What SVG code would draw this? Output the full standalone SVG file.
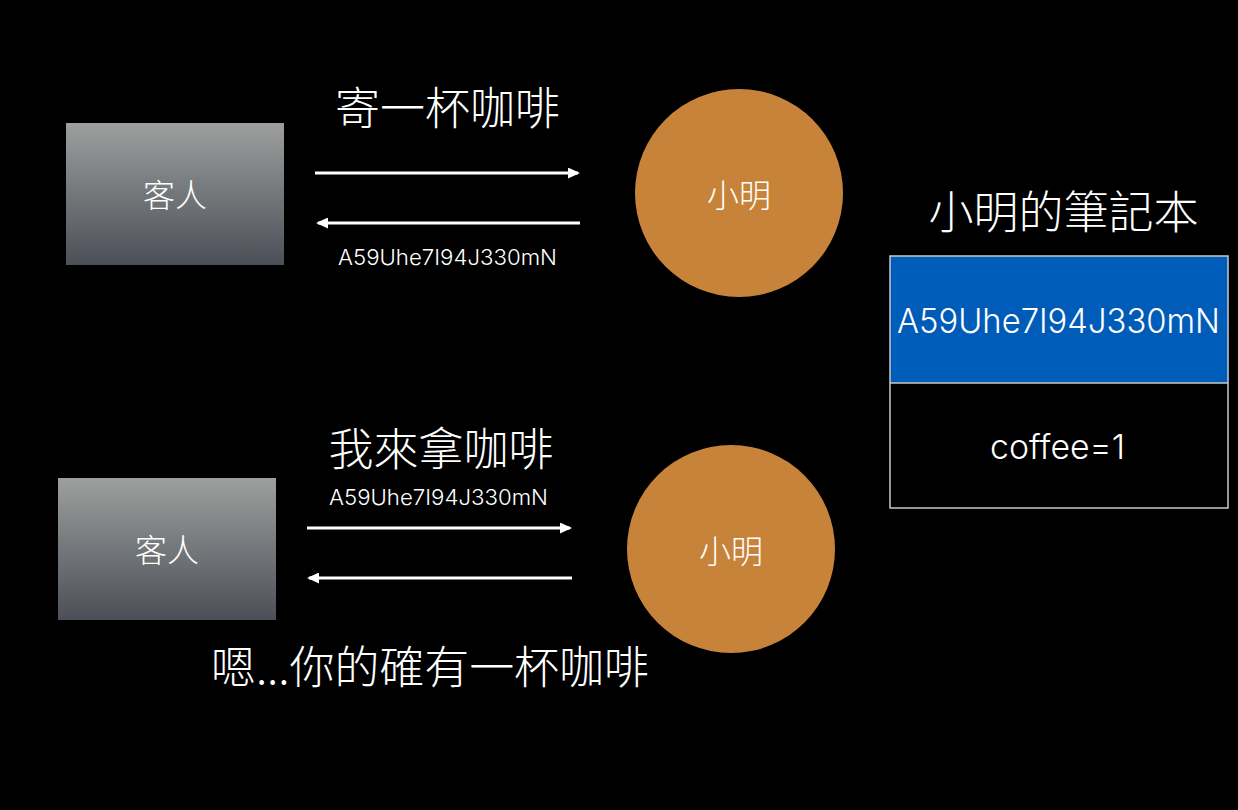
<svg xmlns="http://www.w3.org/2000/svg" width="1238" height="810" viewBox="0 0 1238 810">
  <style>
    .cjk { font-family: "Noto Sans CJK TC", "Noto Sans CJK SC", sans-serif; fill: #ffffff; font-weight: 300; }
    .lat { font-family: "Inter", "Liberation Sans", "DejaVu Sans", sans-serif; fill: #ffffff; font-weight: 300; }
    .title { font-size: 45px; }
    .node { font-size: 32px; }
    .small { font-size: 22px; }
    .big { font-size: 34px; }
    .conn { stroke: #ffffff; stroke-width: 3; fill: none; }
    .person { fill: url(#greyGrad); }
    .ming { fill: #C87E2C; }
  </style>
  <defs>
    <linearGradient id="greyGrad" x1="0" y1="0" x2="0" y2="1">
      <stop offset="0" stop-color="#9C9F9D"/>
      <stop offset="1" stop-color="#4C4F57"/>
    </linearGradient>
    <filter id="grain" x="0" y="0" width="100%" height="100%">
      <feTurbulence type="fractalNoise" baseFrequency="0.85" numOctaves="2" seed="7" result="noise"/>
      <feColorMatrix in="noise" type="matrix" values="0.33 0.33 0.33 0 0  0.33 0.33 0.33 0 0  0.33 0.33 0.33 0 0  0 0 0 0 1" result="gray"/>
      <feComposite in="gray" in2="SourceGraphic" operator="in"/>
    </filter>
    <marker id="arrow" viewBox="0 0 12 11" refX="10" refY="5.5" markerWidth="12" markerHeight="11" markerUnits="userSpaceOnUse" orient="auto">
      <path d="M0,0 L12,5.5 L0,11 z" fill="#ffffff"/>
    </marker>
  </defs>

  <rect x="0" y="0" width="1238" height="810" fill="#000000"/>

  <!-- Top row -->
  <g id="guest1">
    <rect class="person" x="66" y="123" width="218" height="142"/>
    <text class="cjk node" x="175" y="207" text-anchor="middle">客人</text>
  </g>

  <g id="ming1">
    <circle class="ming" cx="739" cy="193" r="104"/>
    <circle cx="739" cy="193" r="104" fill="#fff" filter="url(#grain)" opacity="0.09"/>
    <text class="cjk node" x="739" y="207" text-anchor="middle">小明</text>
  </g>

  <g id="label-send">
    <text class="cjk title" x="447.5" y="125" text-anchor="middle">寄一杯咖啡</text>
  </g>

  <!-- Bottom row -->
  <g id="guest2">
    <rect class="person" x="58" y="478" width="218" height="142"/>
    <text class="cjk node" x="167" y="562" text-anchor="middle">客人</text>
  </g>

  <g id="ming2">
    <circle class="ming" cx="731" cy="549" r="104"/>
    <circle cx="731" cy="549" r="104" fill="#fff" filter="url(#grain)" opacity="0.09"/>
    <text class="cjk node" x="731" y="563" text-anchor="middle">小明</text>
  </g>

  <g id="label-fetch">
    <text class="cjk title" x="441" y="466" text-anchor="middle">我來拿咖啡</text>
  </g>

  <g id="label-confirm">
    <text class="cjk title" x="430" y="684" text-anchor="middle" textLength="438" lengthAdjust="spacing">嗯...你的確有一杯咖啡</text>
  </g>

  <!-- Notebook -->
  <g id="notebook">
    <text class="cjk title" x="1063.5" y="229" text-anchor="middle">小明的筆記本</text>
    <rect x="890" y="256" width="338" height="127" fill="#005CB9"/>
    <rect x="890" y="256" width="338" height="252" fill="none" stroke="#C8C8C8" stroke-width="1.5"/>
    <line x1="890" y1="383" x2="1228" y2="383" stroke="#C8C8C8" stroke-width="1.5"/>
    <text class="lat big" x="1058.5" y="333" text-anchor="middle" textLength="323" lengthAdjust="spacingAndGlyphs">A59Uhe7I94J330mN</text>
    <text class="lat big" x="1057.5" y="459" text-anchor="middle" textLength="135" lengthAdjust="spacingAndGlyphs">coffee=1</text>
  </g>

  <!-- Connectors -->
  <g id="connectors">
    <line class="conn" x1="315" y1="173" x2="578" y2="173" marker-end="url(#arrow)"/>
    <line class="conn" x1="580" y1="223" x2="318" y2="223" marker-end="url(#arrow)"/>
    <text class="lat small" x="447.5" y="265" text-anchor="middle" textLength="219" lengthAdjust="spacingAndGlyphs">A59Uhe7I94J330mN</text>

    <line class="conn" x1="307" y1="528" x2="570" y2="528" marker-end="url(#arrow)"/>
    <line class="conn" x1="572" y1="578" x2="309" y2="578" marker-end="url(#arrow)"/>
    <text class="lat small" x="438.5" y="505" text-anchor="middle" textLength="219" lengthAdjust="spacingAndGlyphs">A59Uhe7I94J330mN</text>
  </g>
</svg>
